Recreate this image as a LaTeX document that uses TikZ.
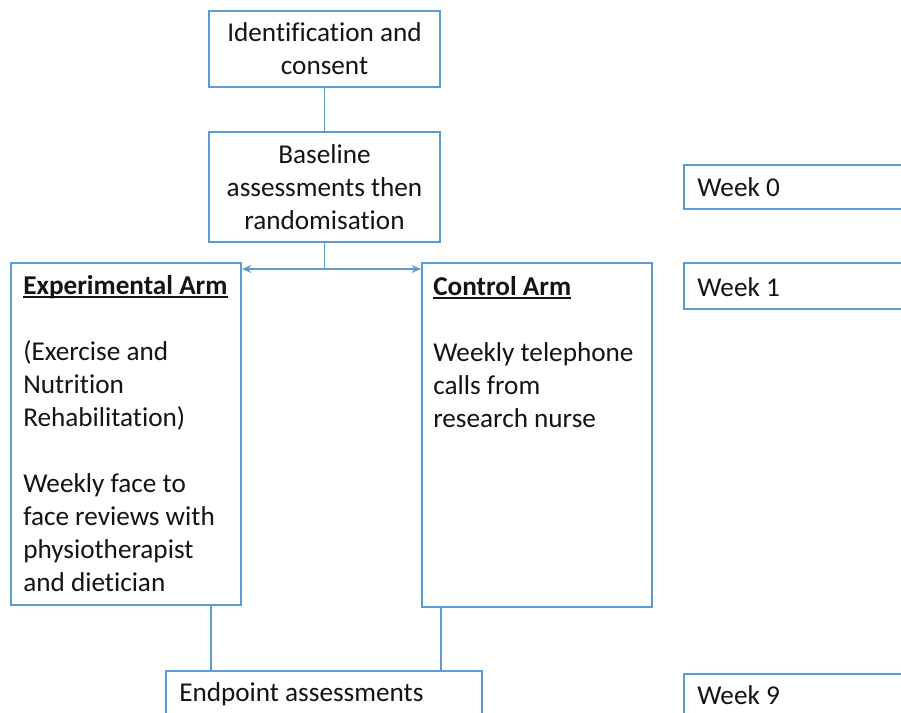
\documentclass[tikz,border=0pt]{standalone}
\usepackage{fontspec}
\setmainfont{Carlito}[Ligatures={NoCommon}]
\usetikzlibrary{arrows.meta}
\definecolor{bluebox}{RGB}{91,155,213}
\definecolor{txt}{RGB}{20,20,20}
\newcommand\myul[1]{\setbox0\hbox{#1}\rlap{\rule[-2.6pt]{\wd0}{1.1pt}}\box0}
\begin{document}
\begin{tikzpicture}[x=0.75pt,y=-0.75pt,
  box/.style={draw=bluebox,line width=1.5pt,fill=white,rectangle,inner sep=0pt},
  lbl/.style={inner sep=0pt,text=txt,font=\fontsize{20.4pt}{24.75pt}\selectfont},
  conn/.style={draw=bluebox,line width=1pt},
  dblarrow/.style={conn,{Stealth[length=7pt,width=6pt]}-{Stealth[length=7pt,width=6pt]}}]
\useasboundingbox (0,0) rectangle (901,713);
\clip (0,0) rectangle (901,713);
% boxes
\node[box,minimum width=173.25pt,minimum height=57pt] (ident) at (324.5,49) {};
\node[box,minimum width=173.25pt,minimum height=82.5pt] (base) at (324.5,187) {};
\node[box,minimum width=172.5pt,minimum height=256.5pt] (exp) at (126,434) {};
\node[box,minimum width=172.5pt,minimum height=258pt] (ctrl) at (537,435) {};
\node[box,minimum width=237pt,minimum height=38.25pt] (endp) at (324,696.5) {};
\node[box,minimum width=165.75pt,minimum height=33pt] (w0) at (794.5,187) {};
\node[box,minimum width=165.75pt,minimum height=34.5pt] (w1) at (794.5,286) {};
\node[box,minimum width=165.75pt,minimum height=36pt] (w9) at (794.5,698) {};
% texts
\node[lbl,align=center] (identt) at (ident.center) {Identification and\\consent};
\node[lbl,align=center] (baset) at (base.center) {Baseline\\assessments then\\randomisation};
\node[lbl,anchor=west] (w0t) at (697,187) {Week 0};
\node[lbl,anchor=west] (w1t) at (697,287) {Week 1};
\node[lbl,anchor=west] (w9t) at (697,695) {Week 9};
\node[lbl,anchor=north west,align=left] (expt) at (23,275) {\myul{\textbf{Experimental Arm}}\\[24.75pt]
(Exercise and\\Nutrition\\Rehabilitation)\\[24.75pt]
Weekly face to\\face reviews with\\physiotherapist\\and dietician};
\node[lbl,anchor=north west,align=left] (ctrlt) at (433,276) {\myul{\textbf{Control Arm}}\\[24.75pt]
Weekly telephone\\calls from\\research nurse};
\node[lbl,anchor=west] (endpt) at (179,694) {Endpoint assessments};
% connectors
\coordinate (split) at (base.south |- 0,269);
\draw[conn] (ident.south) -- (base.north);
\draw[conn] (base.south) -- (split);
\draw[dblarrow] (exp.east |- split) -- (ctrl.west |- split);
\draw[conn] (exp.south -| 211,0) -- (endp.north -| 211,0);
\draw[conn] (ctrl.south -| 441,0) -- (endp.north -| 441,0);
\end{tikzpicture}
\end{document}
